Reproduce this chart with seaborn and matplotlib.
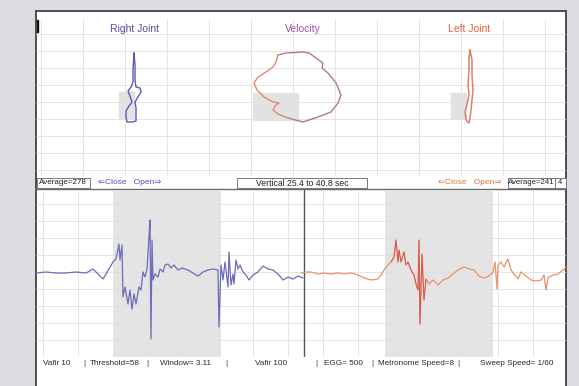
import numpy as np
import pandas as pd
import matplotlib
matplotlib.use("Agg")
import matplotlib.pyplot as plt
from matplotlib.patches import Rectangle
import seaborn as sns

# ---- joint / velocity loops (upper panel, horizontal vs vertical angle) ----
right_joint_x = [98, 99, 99, 100, 104, 105, 102, 99, 100, 100, 100, 96, 91, 90, 90, 93, 96, 94, 92, 95, 97, 97, 98]
right_joint_y = [123, 111, 96, 89, 88, 84, 79, 74, 68, 61, 55, 54, 54, 59, 65, 70, 74, 80, 85, 89, 94, 106, 123]

velocity_x = [242, 250, 267, 273, 280, 287, 286, 292, 300, 305, 302, 295, 282, 267, 252, 242, 237, 240, 243, 237,
              228, 221, 218, 222, 230, 237, 240, 242]
velocity_y = [121, 123, 124, 123, 118, 113, 108, 103, 93, 81, 73, 64, 59, 54, 58, 62, 66, 71, 73, 74,
              79, 86, 93, 99, 104, 109, 114, 121]

left_joint_x = [434, 436, 436, 437, 436, 435, 434, 433, 430, 429, 431, 433, 432, 433, 433, 434]
left_joint_y = [126, 116, 101, 86, 76, 66, 58, 53, 56, 64, 72, 81, 91, 106, 118, 126]

# analysis windows drawn behind each loop: (x0, x1, y0, y1)
loop_windows = [(83, 98, 58, 84), (217, 262, 56, 83), (415, 430, 58, 83)]

titles = ["Right Joint", "Velocity", "Left Joint"]
title_x = [98, 267, 433]
title_colors = ["#4f4fa6", "#a24fb0", "#e0603c"]

# ---- EGG traces (lower panel) ----
right_t = [0, 10, 20, 30, 40, 50, 57, 67, 70, 77, 80, 83, 84, 86, 87, 89, 92, 94, 96, 98, 100, 103, 105, 107,
           109, 111, 113, 114, 115, 116, 117, 119, 122, 124, 127, 129, 132, 135, 138, 142, 146, 152, 157, 162,
           167, 172, 177, 182, 183, 185, 187, 189, 192, 193, 195, 197, 198, 200, 202, 204, 207, 210, 213, 217,
           222, 227, 232, 237, 242, 247, 252, 257, 262, 267]
right_v = [0, 1, 0, 0, 1, 0, 4, -6, -1, 11, 14, 29, 13, 28, -24, -14, -31, -17, -36, -21, -31, -14, -17, 1,
           -4, 4, 36, 53, -66, 33, -7, -1, -4, 4, 1, 8, 9, 5, 8, 3, 5, 3, 0, -3,
           1, 3, 4, 3, -54, 8, -7, 11, -14, 21, -12, -1, -11, 13, 4, 8, 1, -2, -7, -2,
           1, 7, 4, 3, -1, -7, -4, -6, -3, -5]

left_t = [0, 5, 10, 17, 23, 30, 37, 43, 50, 57, 63, 70, 77, 80, 83, 87, 90, 93, 95, 97, 98, 100, 103, 105,
          107, 110, 113, 115, 117, 118, 119, 121, 123, 125, 128, 132, 137, 142, 147, 152, 157, 163, 168, 173,
          178, 183, 188, 192, 194, 196, 197, 200, 203, 207, 210, 213, 217, 220, 225, 230, 235, 240, 243, 245,
          247, 252, 257, 262, 266]
left_v = [0, 1, 1, -1, 0, -1, 0, -1, 0, -2, -5, -7, -6, -2, 3, 8, 11, 16, 33, 11, 23, 11, 21, 8,
          11, 3, -2, -11, -17, 33, -51, 19, -27, -6, -11, -7, -12, -7, -5, -1, 3, 6, 4, 3,
          -3, -5, -3, 1, 11, -16, 8, 11, 6, 14, 3, -1, -6, 1, -3, -7, -8, -7, -2, -17,
          -5, -2, -1, 3, 7]

LEFT_OFFSET = 265          # left-joint channel starts after the right-joint channel
trace_windows = [(78, 185), (349, 457)]
divider = 268

bar_left = "Average=278"
bar_center = "Vertical 25.4 to 40.8 sec"
bar_right = "Average=241"
close_open = "\u21d0Close   Open\u21d2"

status_items = ["Vafir 10", "|", "Threshold=58", "|", "Window= 3.11", "|", "Vafir 100", "|",
                "EGG= 500", "|", "Metronome Speed=8", "|", "Sweep Speed= 1/60"]
status_x = [57, 84, 115, 147, 185, 226, 271, 316, 344, 372, 416, 458, 517]

# ---------------------------------------------------------------------------
sns.set_theme(style="white")
plt.rcParams["font.family"] = ["Liberation Sans", "DejaVu Sans"]

W, H = 579, 386
fig = plt.figure(figsize=(W / 100, H / 100), dpi=100)
fig.patch.set_facecolor("#dcdde2")


def rect(x0, y0, x1, y1):
    return [x0 / W, 1 - y1 / H, (x1 - x0) / W, (y1 - y0) / H]


# white instrument panel
panel = fig.add_axes(rect(35, 10, 567, 386))
panel.set_xlim(35, 567)
panel.set_ylim(386, 10)
panel.set_facecolor("white")
panel.set_xticks([]); panel.set_yticks([])
for s in panel.spines.values():
    s.set_visible(False)
border = "#4d4d4d"
panel.plot([35.6, 35.6], [10, 386], color=border, lw=1.4, solid_capstyle="butt")
panel.plot([566.3, 566.3], [10, 386], color=border, lw=1.4, solid_capstyle="butt")
panel.plot([35, 567], [10.6, 10.6], color=border, lw=1.4)
panel.plot([35, 567], [189, 189], color="#6a6a6a", lw=1.0)
panel.add_patch(Rectangle((35, 20), 3, 12, color="#111111"))

grid_kw = dict(color="#e0e0e0", lw=0.6)

# ---- upper panel ----
up = fig.add_axes(rect(36, 19, 566, 176))
up.set_xlim(0, 530)
up.set_ylim(0, 157)
up.patch.set_alpha(0)
up.set_xticks(np.arange(5, 530, 42))
up.set_yticks(np.arange(6, 157, 17))
up.grid(True, **grid_kw)
up.tick_params(length=0, labelbottom=False, labelleft=False)
for s in up.spines.values():
    s.set_visible(False)

for (x0, x1, y0, y1) in loop_windows:
    up.add_patch(Rectangle((x0, y0), x1 - x0, y1 - y0, color="#e2e2e2", zorder=1))

sns.lineplot(x=right_joint_x, y=right_joint_y, sort=False, estimator=None, ax=up,
             color="#5a5ab0", lw=1.0, zorder=3)
sns.lineplot(x=velocity_x[:15], y=velocity_y[:15], sort=False, estimator=None, ax=up,
             color="#b07a8c", lw=1.0, zorder=3)
sns.lineplot(x=velocity_x[14:], y=velocity_y[14:], sort=False, estimator=None, ax=up,
             color="#e28a6a", lw=1.0, zorder=3)
sns.lineplot(x=left_joint_x, y=left_joint_y, sort=False, estimator=None, ax=up,
             color="#e0806a", lw=1.1, zorder=3)

for t, x, c in zip(titles, title_x, title_colors):
    up.text(x, 147, t, color=c, ha="center", va="center", fontsize=7.5)

# ---- control strip ----
def boxed(x0, x1, text, size=5.8, color="#222222"):
    panel.add_patch(Rectangle((x0, 177.5), x1 - x0, 10, facecolor="white",
                              edgecolor="#777777", lw=0.7, zorder=4))
    panel.text((x0 + x1) / 2, 183, text, ha="center", va="center",
               fontsize=size, color=color, zorder=5)

boxed(36.5, 90, bar_left)
panel.text(130, 183, close_open, ha="center", va="center", fontsize=6.0, color="#4f4fc0")
boxed(237, 367, bar_center, size=6.2)
panel.text(470, 183, close_open, ha="center", va="center", fontsize=6.0, color="#e2703f")
boxed(508, 555, bar_right, size=5.6)
boxed(555, 566, "4", size=5.6)

# ---- lower panel: EGG traces ----
lo = fig.add_axes(rect(36, 190, 566, 357))
lo.set_xlim(0, 530)
lo.set_ylim(-84, 83)
lo.patch.set_alpha(0)
lo.set_xticks(np.arange(7, 530, 35))
lo.set_yticks(np.arange(-67, 83, 17))
lo.grid(True, **grid_kw)
lo.tick_params(length=0, labelbottom=False, labelleft=False)
for s in lo.spines.values():
    s.set_visible(False)

for (a, b) in trace_windows:
    lo.axvspan(a, b, color="#e4e4e4", lw=0, zorder=0.5)
lo.axvline(divider, color="#555555", lw=1.0, zorder=2)

right_df = pd.DataFrame({"t": right_t, "v": right_v})
left_df = pd.DataFrame({"t": np.array(left_t) + LEFT_OFFSET, "v": left_v})
sns.lineplot(data=right_df, x="t", y="v", sort=False, estimator=None, ax=lo,
             color="#6c6cbc", lw=0.9, zorder=3)
sns.lineplot(data=left_df, x="t", y="v", sort=False, estimator=None, ax=lo,
             color="#ec9068", lw=0.9, zorder=3)
burst = left_df[(left_df.t >= LEFT_OFFSET + 90) & (left_df.t <= LEFT_OFFSET + 125)]
sns.lineplot(data=burst, x="t", y="v", sort=False, estimator=None, ax=lo,
             color="#d4504a", lw=0.6, zorder=4)
lo.set_xlabel(""); lo.set_ylabel("")
up.set_xlabel(""); up.set_ylabel("")

# ---- status line ----
for txt, x in zip(status_items, status_x):
    panel.text(x, 363.5, txt, ha="center", va="center", fontsize=5.9, color="#2a2a2a")

fig.savefig("out.png", dpi=100, facecolor=fig.get_facecolor())
